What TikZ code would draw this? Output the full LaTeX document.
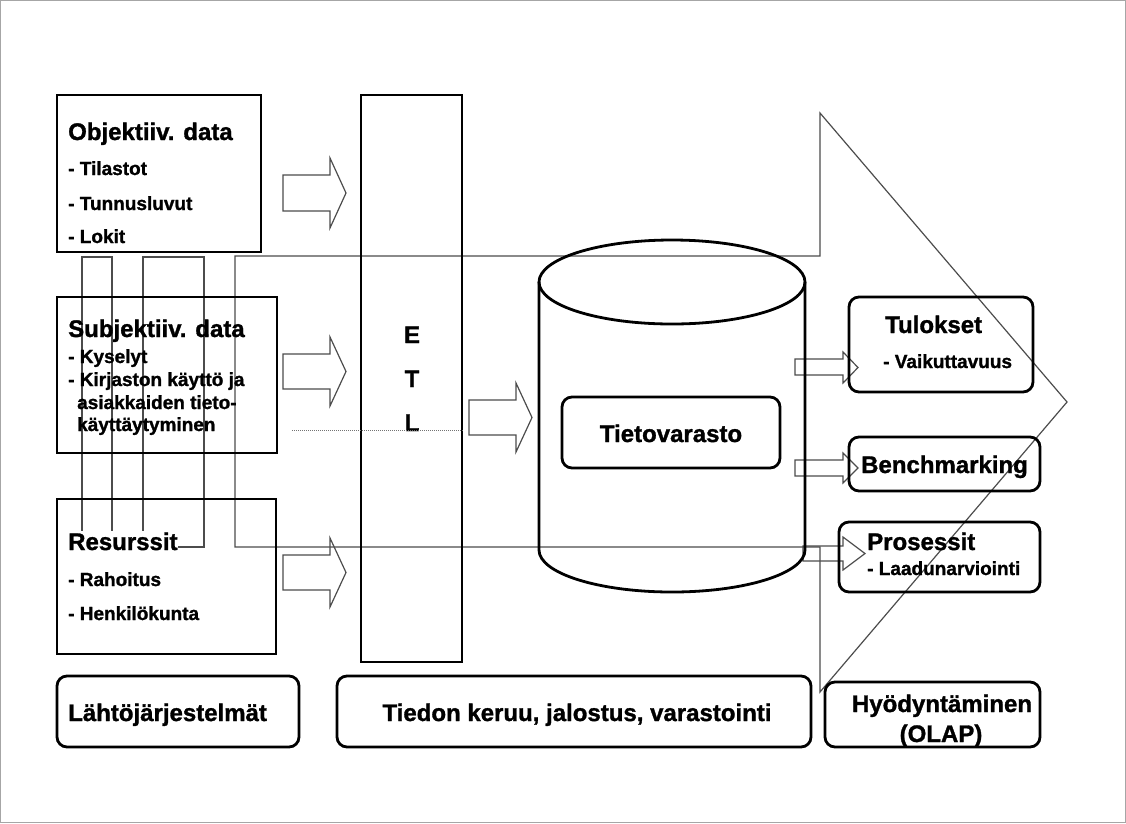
\documentclass[tikz,border=0pt]{standalone}
\usepackage{fontspec}
\setmainfont{Liberation Sans}[BoldFeatures={FakeBold=1.3}]
\tikzset{
 thickbox/.style={draw=black, line width=2.8pt, inner sep=0pt},
 roundbox/.style={draw=black, line width=2.8pt, rounded corners=10pt, inner sep=0pt},
 thinline/.style={draw=black!70, line width=1.2pt},
 barrowst/.style={draw=black!70, line width=1.2pt, line join=miter},
 ttl/.style={font=\fontsize{24}{28}\selectfont\bfseries, inner sep=0pt},
 itm/.style={font=\fontsize{19}{22}\selectfont\bfseries, inner sep=0pt},
}
\newcommand\blockarr[7]{%
 \draw[barrowst] (#1,#4) -- (#2,#4) -- (#2,#6) -- (#3,{(#6+#7)/2}) -- (#2,#7) -- (#2,#5) -- (#1,#5) -- cycle;}
\begin{document}
\begin{tikzpicture}[x=1pt,y=-1pt]
\useasboundingbox (0,0) rectangle (1126,823);
\draw[black!35, line width=1pt] (0.5,0.5) rectangle (1125.5,822.5);

% big background arrow and stray rectangles
\draw[thinline, line join=miter] (235,256) -- (820,256) -- (820,113) -- (1067,402) -- (820,692) -- (820,547) -- (235,547) -- cycle;
\draw[thinline] (82,257) rectangle (112,547);
\draw[thinline] (143,257) rectangle (204,547);

% source boxes
\node[thickbox, minimum width=204pt, minimum height=157pt] (obj) at (159,173.5) {};
\node[thickbox, minimum width=220pt, minimum height=156pt] (subj) at (167,375) {};
\node[thickbox, minimum width=219pt, minimum height=155pt] (res) at (166.5,576.5) {};

\node[ttl, anchor=base west] (objt) at (68,140) {Objektiiv. data};
\node[itm, anchor=base west] (obj1) at (68,175) {- Tilastot};
\node[itm, anchor=base west] (obj2) at (68,210) {- Tunnusluvut};
\node[itm, anchor=base west] (obj3) at (68,243) {- Lokit};

\node[ttl, anchor=base west] (subjt) at (68,337) {Subjektiiv. data};
\node[itm, anchor=base west] (subj1) at (68,363) {- Kyselyt};
\node[itm, anchor=base west] (subj2) at (68,386) {- Kirjaston käyttö ja};
\node[itm, anchor=base west] (subj3) at (77,409) {asiakkaiden tieto-};
\node[itm, anchor=base west] (subj4) at (77,431) {käyttäytyminen};

\node[ttl, anchor=base west, fill=white, inner ysep=2pt] (rest) at (68,550) {Resurssit};
\node[itm, anchor=base west] (res1) at (68,586) {- Rahoitus};
\node[itm, anchor=base west] (res2) at (68,620) {- Henkilökunta};

% ETL
\node[thickbox, minimum width=101pt, minimum height=567pt] (etl) at (411.5,378.5) {};
\node[ttl, anchor=base] (le) at (412,343) {E};
\node[ttl, anchor=base] (lt) at (412,387) {T};
\node[ttl, anchor=base] (ll) at (412,431) {L};
\coordinate (dotA) at (292,430);
\draw[black!55, line width=1pt, densely dotted] (dotA) -- (etl.east |- dotA);

% block arrows
\blockarr{283}{330}{346}{175}{211}{158}{228}
\blockarr{283}{330}{346}{354}{389}{337}{406}
\blockarr{283}{330}{346}{555}{590}{538}{607}
\blockarr{469}{516}{532}{400}{435}{383}{452}
\blockarr{795}{843}{858}{359}{375}{352}{383}
\blockarr{795}{843}{858}{460}{476}{453}{483}
\blockarr{803}{843}{865}{546}{561}{537}{570}

% cylinder
\draw[black, line width=2.8pt] (672,282) ellipse [x radius=133pt, y radius=42pt];
\draw[black, line width=2.8pt] (539,282) -- (539,550) arc[start angle=180, end angle=360, x radius=133pt, y radius=42pt] -- (805,282);

\node[roundbox, minimum width=218pt, minimum height=71pt] (tv) at (671,432.5) {};
\node[ttl, anchor=base] (tvt) at (671,442) {Tietovarasto};

% output boxes
\node[roundbox, minimum width=184pt, minimum height=95pt] (tul) at (941,344.5) {};
\node[ttl, anchor=base west] (tult) at (885,333) {Tulokset};
\node[itm, anchor=base west] (tul1) at (883,368) {- Vaikuttavuus};

\node[roundbox, minimum width=191pt, minimum height=54pt] (ben) at (944.5,464) {};
\node[ttl, anchor=base] (bent) at (944.5,473) {Benchmarking};

\node[roundbox, minimum width=201pt, minimum height=70pt] (pro) at (939.5,557) {};
\node[ttl, anchor=base west] (prot) at (867,550) {Prosessit};
\node[itm, anchor=base west] (pro1) at (867,575) {- Laadunarviointi};

% bottom labels
\node[roundbox, minimum width=242pt, minimum height=71pt] (lah) at (178,711.5) {};
\node[ttl, anchor=base west] (laht) at (68,721) {Lähtöjärjestelmät};
\node[roundbox, minimum width=474pt, minimum height=71pt] (tie) at (574,711.5) {};
\node[ttl, anchor=base] (tiet) at (577,721) {Tiedon keruu, jalostus, varastointi};
\node[roundbox, minimum width=215pt, minimum height=65pt] (hyo) at (932.5,714.5) {};
\node[ttl, anchor=base] (hyot) at (942,712) {Hyödyntäminen};
\node[ttl, anchor=base] (olap) at (941,742) {(OLAP)};
\end{tikzpicture}
\end{document}
